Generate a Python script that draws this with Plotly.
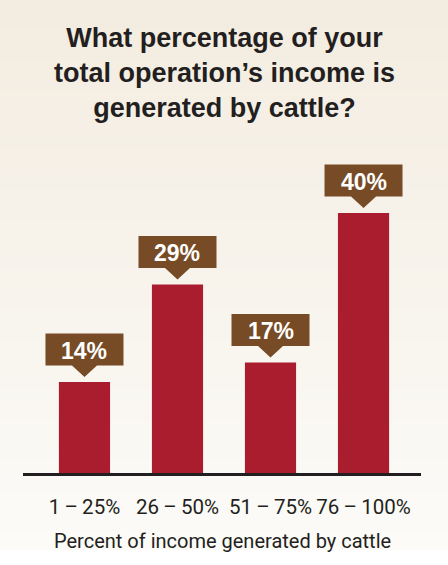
import plotly.graph_objects as go

# Survey data
categories = ["1\u2009–\u200925%", "26\u2009–\u200950%", "51\u2009–\u200975%", "76\u2009–\u2009100%"]
shares = [14, 29, 17, 40]
value_labels = ["14%", "29%", "17%", "40%"]

title_text = "What percentage of your<br>total operation’s income is<br>generated by cattle?"
axis_title = "Percent of income generated by cattle"

W, H = 448, 565
M_L, M_R, M_T, M_B = 23, 27, 148, 92
X_RANGE = [-0.661, 3.618]
Y_RANGE = [0, 50]

BAR_RED = "#a91d2f"
TAG_BROWN = "#774b25"
INK = "#231f20"

plot_w = W - M_L - M_R
plot_h = H - M_T - M_B
px_x = plot_w / (X_RANGE[1] - X_RANGE[0])   # pixels per x unit
px_y = plot_h / (Y_RANGE[1] - Y_RANGE[0])   # pixels per y unit


def paper_y(px_from_top):
    """Convert a pixel offset from the top of the page to paper y."""
    return 1 + (M_T - px_from_top) / plot_h


x_pos = list(range(len(categories)))

fig = go.Figure()
fig.add_trace(go.Bar(
    x=x_pos, y=shares, width=0.55,
    marker=dict(color=BAR_RED, line=dict(width=0)),
    hoverinfo="skip",
))

shapes = []

# soft cream background fading toward white (stacked bands, no seams)
n_bands = 55
top_c = (243, 236, 224)
bot_c = (252, 251, 248)
grad_end = 550
for i in range(n_bands):
    y0 = grad_end * i / n_bands
    t = (i + 0.5) / n_bands
    c = tuple(round(a + (b - a) * t) for a, b in zip(top_c, bot_c))
    shapes.append(dict(
        type="rect", xref="paper", yref="paper", layer="below",
        x0=-M_L / plot_w, x1=1 + M_R / plot_w,
        y0=paper_y(y0), y1=paper_y(grad_end),
        fillcolor="rgb(%d,%d,%d)" % c, line=dict(width=0),
    ))

# value tags with a downward pointer above each bar
half_w = 39 / px_x
tip_half = 12.5 / px_x
gap_tip = 5 / px_y
gap_box = 16.5 / px_y
box_h = 32 / px_y
for xi, v, lab in zip(x_pos, shares, value_labels):
    b = v + gap_box
    t = b + box_h
    tip = v + gap_tip
    path = (f"M {xi - half_w},{b} L {xi - tip_half},{b} L {xi},{tip} "
            f"L {xi + tip_half},{b} L {xi + half_w},{b} L {xi + half_w},{t} "
            f"L {xi - half_w},{t} Z")
    shapes.append(dict(type="path", xref="x", yref="y", path=path,
                       fillcolor=TAG_BROWN, line=dict(width=0), layer="above"))
    fig.add_annotation(
        x=xi, y=(b + t) / 2, xref="x", yref="y", text=lab, showarrow=False,
        font=dict(family="Liberation Sans", size=23, color="white", weight="bold"),
        xanchor="center", yanchor="middle", yshift=-1,
    )

# chart title
fig.add_annotation(
    x=0.5, xref="paper", y=paper_y(21), yref="paper",
    xanchor="center", yanchor="top", showarrow=False, align="center",
    text=title_text,
    font=dict(family="Liberation Sans", size=27, color=INK, weight="bold"),
    xshift=(M_R - M_L) / 2,
)

# axis title
fig.add_annotation(
    x=0.5, xref="paper", y=paper_y(555), yref="paper",
    xanchor="center", yanchor="bottom", showarrow=False,
    text=axis_title,
    font=dict(family="Roboto", size=20, color=INK),
    xshift=(M_R - M_L) / 2 - 2,
)

fig.update_layout(
    width=W, height=H,
    margin=dict(l=M_L, r=M_R, t=M_T, b=M_B, pad=0),
    paper_bgcolor="white",
    plot_bgcolor="rgba(0,0,0,0)",
    showlegend=False,
    shapes=shapes,
    xaxis=dict(
        range=X_RANGE, tickvals=x_pos, ticktext=categories, tickangle=0,
        showline=True, linecolor=INK, linewidth=3,
        showgrid=False, zeroline=False, ticks="", ticklabelstandoff=13,
        tickfont=dict(family="Roboto", size=20.5, color=INK),
        automargin=False, fixedrange=True,
    ),
    yaxis=dict(range=Y_RANGE, visible=False, showgrid=False, zeroline=False,
               automargin=False, fixedrange=True),
)

fig.write_html("out.html")
